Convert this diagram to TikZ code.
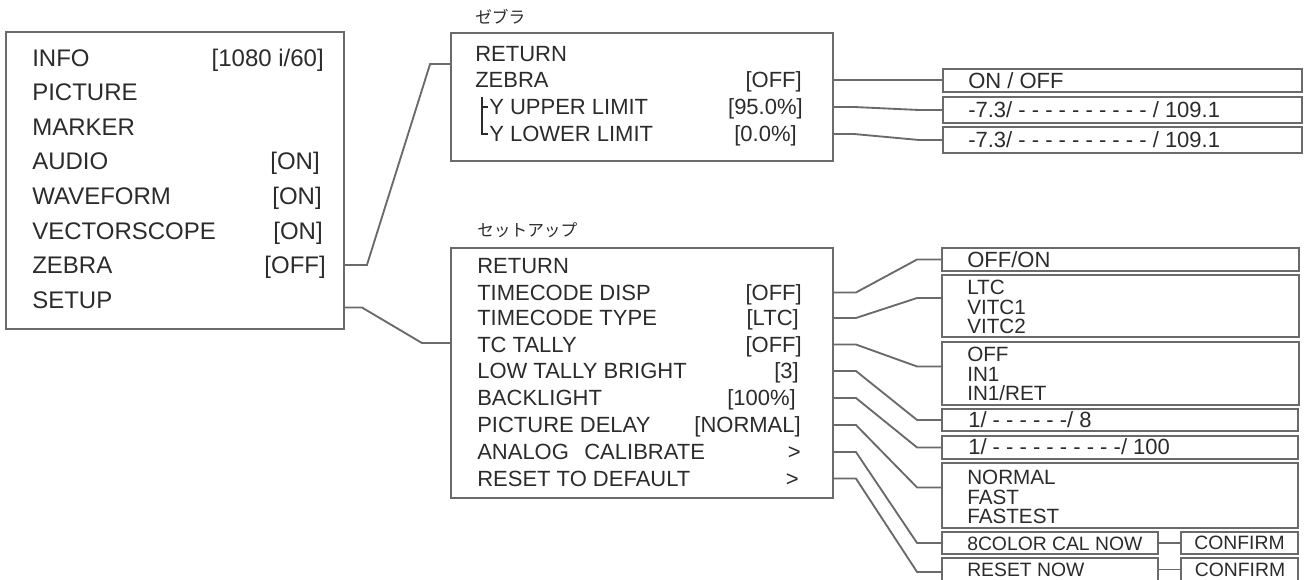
\documentclass[tikz,border=0pt]{standalone}
\usepackage{fontspec}
\setmainfont{Liberation Sans}
\newfontfamily\jpfont{Noto Sans CJK JP}
\usetikzlibrary{fit}
\definecolor{framegray}{HTML}{6A6A6A}
\definecolor{inkgray}{HTML}{2B2B2B}

\begin{document}
\begin{tikzpicture}[x=0.75pt, y=-0.75pt,
  menubox/.style={draw=framegray, line width=1.4pt, inner sep=0pt},
  link/.style={draw=framegray, line width=1.4pt},
  treeline/.style={draw=inkgray, line width=1.1pt},
  mainrow/.style={inner sep=0pt, text=inkgray, font=\fontsize{18}{20}\selectfont,
    text height=12.9pt, text depth=0pt},
  subrow/.style={inner sep=0pt, text=inkgray, font=\fontsize{16.5}{18}\selectfont,
    text height=11.8pt, text depth=0pt},
  optline/.style={inner sep=0pt, text=inkgray, font=\fontsize{14.5}{14.6}\selectfont,
    text height=10.4pt, text depth=0pt},
  optlist/.style={inner sep=0pt, text=inkgray, font=\fontsize{15.5}{14.6}\selectfont,
    align=left},
  jplabel/.style={inner sep=0pt, text=inkgray, font=\jpfont\fontsize{12.5}{14}\selectfont}]

% Frame (pixel grid of the sheet, y downwards)
\useasboundingbox (0,0) rectangle (1306,580);

% ================================================================
% MAIN MENU
% ================================================================
\node[menubox, fit={(6,32) (344,329)}] (mainmenu) {};

\node[mainrow, anchor=west] (minfo) at (32,58) {INFO};
\node[mainrow, anchor=east] (minfoval) at (324,58) {[1080 i/60]};
\node[mainrow, anchor=west] (mpicture) at (32,92) {PICTURE};
\node[mainrow, anchor=west] (mmarker) at (32,127) {MARKER};
\node[mainrow, anchor=west] (maudio) at (32,161) {AUDIO};
\node[mainrow, anchor=east] (maudioval) at (320,161) {[ON]};
\node[mainrow, anchor=west] (mwave) at (32,196) {WAVEFORM};
\node[mainrow, anchor=east] (mwaveval) at (322,196) {[ON]};
\node[mainrow, anchor=west] (mvector) at (32,231) {VECTORSCOPE};
\node[mainrow, anchor=east] (mvectorval) at (323,231) {[ON]};
\node[mainrow, anchor=west] (mzebra) at (32,265) {ZEBRA};
\node[mainrow, anchor=east] (mzebraval) at (326,265) {[OFF]};
\node[mainrow, anchor=west] (msetup) at (32,299.5) {SETUP};

% ================================================================
% ZEBRA MENU
% ================================================================
\node[jplabel, anchor=west] (zebratitle) at (475,17) {ゼブラ};
\node[menubox, fit={(451,33) (833,161)}] (zebramenu) {};

\node[subrow, anchor=west] (zreturn) at (475,54) {RETURN};
\node[subrow, anchor=west] (zzebra) at (475,80) {ZEBRA};
\node[subrow, anchor=east] (zzebraval) at (802,80) {[OFF]};
\node[subrow, anchor=west] (zupper) at (489,107) {Y UPPER LIMIT};
\node[subrow, anchor=east] (zupperval) at (803,107) {[95.0\%]};
\node[subrow, anchor=west] (zlower) at (489,134) {Y LOWER LIMIT};
\node[subrow, anchor=east] (zlowerval) at (797,134) {[0.0\%]};

% tree marks in front of the limits
\draw[treeline] ([shift={(-7,-10)}]zupper.west) |- ([shift={(-1,0)}]zupper.west);
\draw[treeline] ([shift={(-7,0)}]zupper.west) |- ([shift={(-1,0)}]zlower.west);

% zebra choices
\node[menubox, fit={(943,69) (1302,92)}] (zonoff) {};
\node[subrow, anchor=west] (zonofftxt) at (968,81) {ON / OFF};
\node[menubox, fit={(943,97) (1302,123)}] (zupperopt) {};
\node[subrow, anchor=west] (zupperopttxt) at (968,110)
  {-7.3/ - - - - - - - - - - / 109.1};
\node[menubox, fit={(943,127) (1302,153)}] (zloweropt) {};
\node[subrow, anchor=west] (zloweropttxt) at (968,140)
  {-7.3/ - - - - - - - - - - / 109.1};

\draw[link] (zebramenu.east |- zzebraval.east) -- (zonoff.west |- zzebraval.east);
\draw[link] (zebramenu.east |- zupperval.east) -- ++(20,0)
  -- ([shift={(-23,0)}]zupperopt.west) -- (zupperopt.west);
\draw[link] (zebramenu.east |- zlowerval.east) -- ++(20,0)
  -- ([shift={(-23,0)}]zloweropt.west) -- (zloweropt.west);

% ================================================================
% SETUP MENU
% ================================================================
\node[jplabel, anchor=west] (setuptitle) at (477,230) {セットアップ};
\node[menubox, fit={(451,248) (833,498)}] (setupmenu) {};

\node[subrow, anchor=west] (sreturn) at (477,266) {RETURN};
\node[subrow, anchor=west] (stcdisp) at (477,292.5) {TIMECODE DISP};
\node[subrow, anchor=east] (stcdispval) at (802,292.5) {[OFF]};
\node[subrow, anchor=west] (stctype) at (477,318) {TIMECODE TYPE};
\node[subrow, anchor=east] (stctypeval) at (799,318) {[LTC]};
\node[subrow, anchor=west] (stally) at (477,344.5) {TC TALLY};
\node[subrow, anchor=east] (stallyval) at (802,344.5) {[OFF]};
\node[subrow, anchor=west] (slow) at (477,371) {LOW TALLY BRIGHT};
\node[subrow, anchor=east] (slowval) at (799,371) {[3]};
\node[subrow, anchor=west] (sback) at (477,398) {BACKLIGHT};
\node[subrow, anchor=east] (sbackval) at (796,398) {[100\%]};
\node[subrow, anchor=west] (sdelay) at (477,425) {PICTURE DELAY};
\node[subrow, anchor=east] (sdelayval) at (801,425) {[NORMAL]};
\node[subrow, anchor=west] (sanalog) at (477,452) {ANALOG\hspace{0.7em}CALIBRATE};
\node[subrow, anchor=east] (sanalogval) at (801,452) {>};
\node[subrow, anchor=west] (sreset) at (477,478.5) {RESET TO DEFAULT};
\node[subrow, anchor=east] (sresetval) at (799,478.5) {>};

% setup choices
\node[menubox, fit={(942,248) (1299,271)}] (otcdisp) {};
\node[subrow, anchor=west] (otcdisptxt) at (967,260) {OFF/ON};
\node[menubox, fit={(942,275) (1299,337)}] (otctype) {};
\node[optlist, anchor=west] (otctypetxt) at (967,307) {LTC\\VITC1\\VITC2};
\node[menubox, fit={(942,342) (1299,405)}] (otally) {};
\node[optlist, anchor=west] (otallytxt) at (967,374) {OFF\\IN1\\IN1/RET};
\node[menubox, fit={(942,409) (1298,431)}] (olow) {};
\node[subrow, anchor=west] (olowtxt) at (968,420) {1/ - - - - - -/ 8};
\node[menubox, fit={(942,436) (1298,459)}] (oback) {};
\node[subrow, anchor=west] (obacktxt) at (968,447) {1/ - - - - - - - - - -/ 100};
\node[menubox, fit={(942,463) (1298,528)}] (odelay) {};
\node[optlist, anchor=west] (odelaytxt) at (967,497) {NORMAL\\FAST\\FASTEST};
\node[menubox, fit={(942,532) (1158,554)}] (ocal) {};
\node[optline, anchor=west] (ocaltxt) at (967,544) {8COLOR CAL NOW};
\node[menubox, fit={(1181,532) (1298,554)}] (ocalok) {};
\node[optline] (ocaloktxt) at (ocalok) {CONFIRM};
\node[menubox, fit={(942,558) (1158,586)}] (oreset) {};
\node[optline, anchor=west] (oresettxt) at (967,569.5) {RESET NOW};
\node[menubox, fit={(1181,558) (1298,586)}] (oresetok) {};
\node[optline] (oresetoktxt) at (1240,569.5) {CONFIRM};

% attach points that sit above the box middle
\path (otctype.west) ++(0,-8) coordinate (otctypein);
\path (otally.west) ++(0,-7) coordinate (otallyin);
\path (odelay.west) ++(0,-8) coordinate (odelayin);
\path (oreset.west) ++(0,0) coordinate (oresetin);

% setup links
\draw[link] (setupmenu.east |- stcdispval.east) -- ++(22,0)
  -- ([shift={(-24,0)}]otcdisp.west) -- (otcdisp.west);
\draw[link] (setupmenu.east |- stctypeval.east) -- ++(22,0)
  -- ([shift={(-24,0)}]otctypein) -- (otctypein);
\draw[link] (setupmenu.east |- stallyval.east) -- ++(22,0)
  -- ([shift={(-24,0)}]otallyin) -- (otallyin);
\draw[link] (setupmenu.east |- slowval.east) -- ++(22,0)
  -- ([shift={(-24,0)}]olow.west) -- (olow.west);
\draw[link] (setupmenu.east |- sbackval.east) -- ++(22,0)
  -- ([shift={(-24,0)}]oback.west) -- (oback.west);
\draw[link] (setupmenu.east |- sdelayval.east) -- ++(22,0)
  -- ([shift={(-24,0)}]odelayin) -- (odelayin);
\draw[link] (setupmenu.east |- sanalogval.east) -- ++(22,0)
  -- ([shift={(-24,0)}]ocal.west) -- (ocal.west);
\draw[link] (setupmenu.east |- sresetval.east) -- ++(22,0)
  -- ([shift={(-24,0)}]oresetin) -- (oresetin);

\draw[link] (ocal.east) -- (ocalok.west);
\draw[link] (oreset.east |- oresetoktxt) -- (oresetok.west |- oresetoktxt);

% ================================================================
% MAIN -> SUB MENUS
% ================================================================
\path (zebramenu.north west) ++(0,32) coordinate (zebrain);
\path (setupmenu.north west) ++(0,96) coordinate (setupin);
\path (mainmenu.east |- msetup.east) ++(0,8) coordinate (setupout);

\draw[link] (mainmenu.east |- mzebraval.east) -- ++(22,0)
  -- ([shift={(-20,0)}]zebrain) -- (zebrain);
\draw[link] (setupout) -- ++(17,0)
  -- ([shift={(-28,0)}]setupin) -- (setupin);

\end{tikzpicture}
\end{document}
